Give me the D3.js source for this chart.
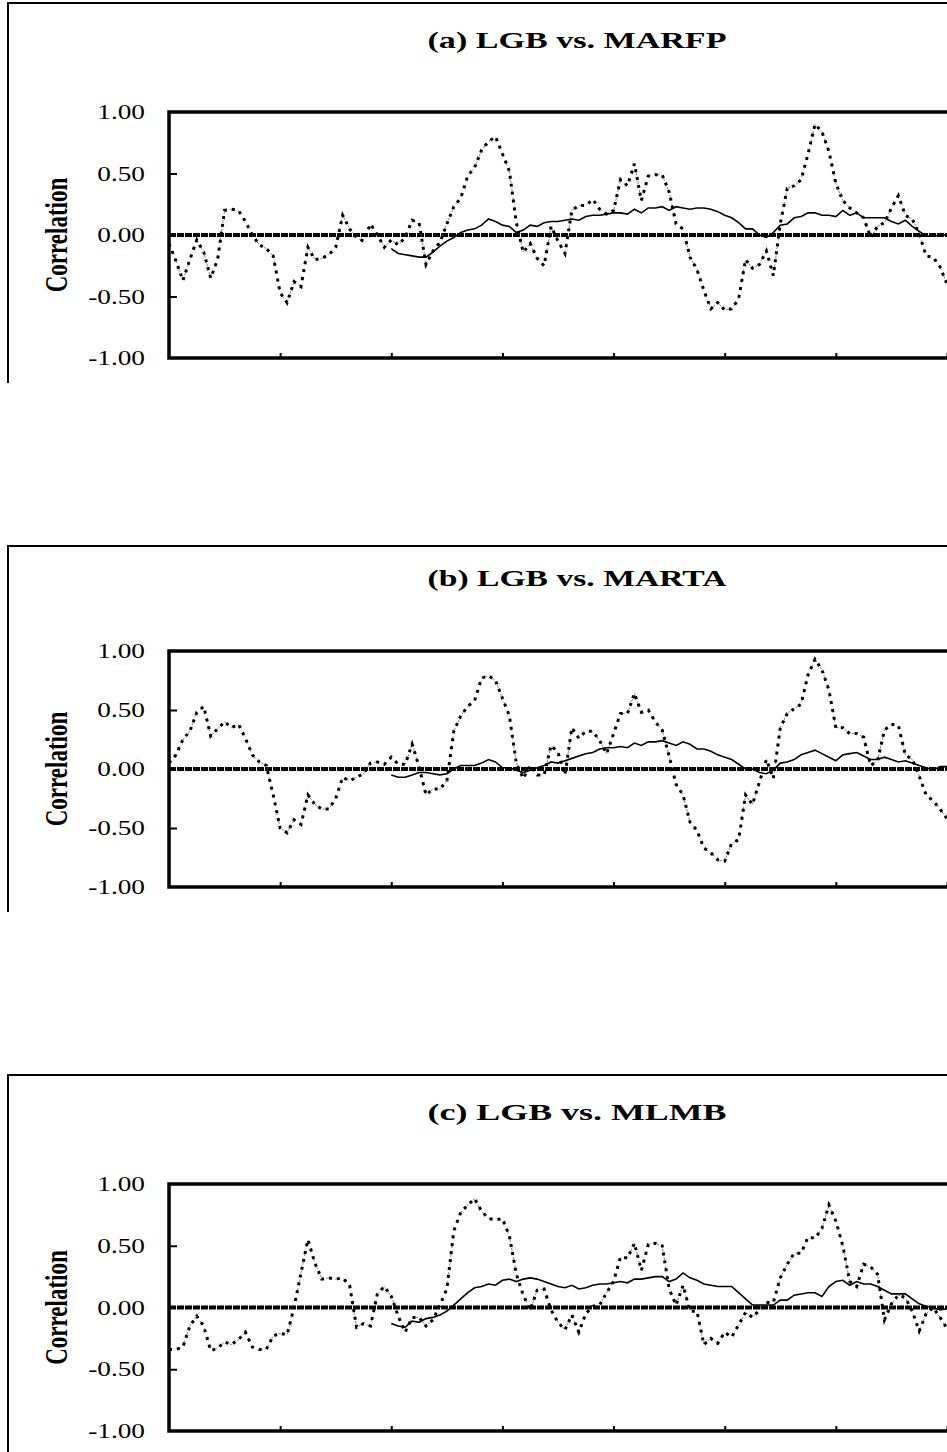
<!DOCTYPE html>
<html>
<head>
<meta charset="utf-8">
<script src="https://cdn.jsdelivr.net/npm/d3@7"></script>
<style>
  body { margin: 0; background: #fff; }
  svg { display: block; }
</style>
</head>
<body>
<div id="chart"></div>
<script>
// x index: 113 observations across the plot, ticks every 16
const xTicks = [16, 32, 48, 64, 80, 96, 112];
const yTicks = [1, 0.5, 0, -0.5, -1];
const innerYTicks = [0.5, -0.5];
const titles = ["(a) LGB vs. MARFP", "(b) LGB vs. MARTA", "(c) LGB vs. MLMB"];
const yLabel = "Correlation";
const solidStart = 32;

const dottedA = [-0.07,-0.21,-0.37,-0.20,-0.04,-0.14,-0.35,-0.20,0.20,0.21,
  0.20,0.11,0.00,-0.08,-0.11,-0.17,-0.47,-0.55,-0.38,-0.42,
  -0.10,-0.20,-0.19,-0.16,-0.10,0.16,0.05,-0.02,-0.05,0.09,
  0.00,-0.10,-0.04,-0.08,-0.02,0.12,0.10,-0.24,-0.13,-0.06,
  0.09,0.23,0.30,0.48,0.55,0.69,0.76,0.80,0.66,0.52,
  0.10,-0.14,-0.07,-0.19,-0.25,0.07,-0.05,-0.15,0.20,0.24,
  0.24,0.29,0.21,0.17,0.20,0.45,0.40,0.58,0.28,0.48,
  0.49,0.49,0.35,0.09,0.05,-0.18,-0.28,-0.45,-0.60,-0.55,
  -0.61,-0.60,-0.52,-0.20,-0.27,-0.24,-0.13,-0.33,0.09,0.38,
  0.40,0.45,0.66,0.90,0.84,0.68,0.42,0.28,0.22,0.18,
  0.14,-0.02,0.07,0.10,0.22,0.32,0.16,0.13,0.01,-0.17,
  -0.18,-0.26,-0.40];
const solidA = [-0.11,-0.15,-0.16,-0.17,-0.18,-0.18,-0.14,-0.09,-0.05,-0.02,
  0.02,0.04,0.05,0.08,0.13,0.11,0.08,0.07,0.02,0.04,
  0.08,0.07,0.10,0.11,0.11,0.12,0.13,0.12,0.15,0.16,
  0.16,0.17,0.18,0.18,0.17,0.21,0.18,0.22,0.22,0.23,
  0.20,0.23,0.22,0.21,0.22,0.22,0.21,0.19,0.16,0.14,
  0.10,0.05,0.05,0.00,-0.02,0.02,0.08,0.09,0.14,0.15,
  0.18,0.18,0.16,0.16,0.15,0.20,0.16,0.18,0.14,0.14,
  0.14,0.14,0.11,0.09,0.12,0.07,0.03,-0.01,-0.01,0.00,
  0.00];

const dottedB = [0.05,0.12,0.25,0.32,0.48,0.53,0.28,0.34,0.40,0.35,
  0.38,0.26,0.12,0.06,0.03,-0.22,-0.50,-0.54,-0.43,-0.47,
  -0.22,-0.30,-0.34,-0.34,-0.25,-0.07,-0.10,-0.07,-0.04,0.05,
  0.06,0.04,0.10,0.04,0.04,0.21,0.02,-0.22,-0.17,-0.17,
  -0.10,0.32,0.45,0.53,0.58,0.77,0.79,0.75,0.60,0.45,
  0.05,-0.08,0.03,-0.05,-0.05,0.20,0.14,-0.05,0.35,0.26,
  0.32,0.32,0.24,0.13,0.30,0.47,0.47,0.64,0.48,0.50,
  0.40,0.33,0.11,-0.13,-0.22,-0.45,-0.52,-0.67,-0.71,-0.77,
  -0.78,-0.63,-0.60,-0.22,-0.30,-0.11,0.08,-0.08,0.35,0.47,
  0.51,0.55,0.80,0.93,0.84,0.67,0.35,0.35,0.30,0.30,
  0.27,0.03,0.07,0.33,0.38,0.37,0.12,0.08,-0.06,-0.22,
  -0.27,-0.34,-0.42];
const solidB = [-0.05,-0.07,-0.07,-0.05,-0.03,-0.03,-0.04,-0.05,-0.04,0.00,
  0.03,0.03,0.03,0.05,0.08,0.06,0.01,0.01,-0.01,-0.03,
  -0.01,0.01,0.03,0.06,0.05,0.07,0.09,0.11,0.13,0.14,
  0.17,0.18,0.18,0.19,0.18,0.22,0.20,0.23,0.23,0.24,
  0.22,0.20,0.23,0.21,0.17,0.17,0.15,0.12,0.10,0.08,
  0.04,0.00,0.00,-0.03,-0.04,-0.01,0.05,0.06,0.08,0.12,
  0.14,0.16,0.13,0.10,0.07,0.12,0.13,0.14,0.11,0.08,
  0.08,0.10,0.08,0.06,0.07,0.05,0.03,0.01,-0.01,0.02,
  0.02];

const dottedC = [-0.34,-0.34,-0.32,-0.15,-0.07,-0.15,-0.35,-0.33,-0.28,-0.30,
  -0.26,-0.20,-0.32,-0.34,-0.34,-0.23,-0.21,-0.22,0.00,0.28,
  0.55,0.36,0.23,0.24,0.23,0.24,0.18,-0.16,-0.13,-0.15,
  0.11,0.17,0.09,-0.07,-0.20,-0.08,-0.08,-0.15,-0.10,0.02,
  0.15,0.62,0.77,0.83,0.88,0.78,0.72,0.71,0.72,0.58,
  0.27,0.10,-0.02,0.14,0.15,-0.02,-0.12,-0.18,-0.06,-0.20,
  -0.05,0.01,0.02,0.12,0.21,0.41,0.40,0.52,0.30,0.51,
  0.52,0.50,0.15,0.02,0.18,-0.03,-0.03,-0.30,-0.25,-0.29,
  -0.20,-0.24,-0.14,-0.04,-0.08,-0.02,0.04,0.04,0.24,0.35,
  0.44,0.44,0.57,0.56,0.64,0.83,0.70,0.50,0.21,0.17,
  0.35,0.33,0.27,-0.10,0.03,0.10,0.08,-0.03,-0.19,-0.05,
  0.00,-0.08,-0.17];
const solidC = [-0.13,-0.15,-0.16,-0.11,-0.12,-0.09,-0.08,-0.06,-0.03,0.02,
  0.07,0.12,0.16,0.17,0.19,0.18,0.22,0.23,0.21,0.23,
  0.24,0.23,0.21,0.19,0.17,0.16,0.18,0.15,0.16,0.18,
  0.19,0.19,0.20,0.21,0.20,0.23,0.23,0.24,0.25,0.25,
  0.21,0.23,0.28,0.24,0.22,0.19,0.18,0.17,0.17,0.17,
  0.12,0.07,0.02,0.02,0.02,0.02,0.06,0.06,0.10,0.11,
  0.12,0.12,0.09,0.17,0.21,0.22,0.18,0.21,0.19,0.19,
  0.17,0.14,0.11,0.11,0.11,0.07,0.03,0.01,0.00,-0.02,
  -0.01];

const dottedSeries = [dottedA, dottedB, dottedC];
const solidSeries = [solidA, solidB, solidC];

// page layout of the three panels
const layout = [
  { frameTop: 3,    frameBottom: 383,  plotTop: 112,  plotBottom: 358,  titleY: 48 },
  { frameTop: 546,  frameBottom: 912,  plotTop: 651,  plotBottom: 887,  titleY: 586 },
  { frameTop: 1075, frameBottom: 1452, plotTop: 1184, plotBottom: 1431, titleY: 1120 }
];

const W = 947, H = 1452;
const plotLeft = 169, plotRight = 947, frameLeft = 8;
const serif = "'Liberation Serif', 'Times New Roman', serif";

const svg = d3.select("#chart")
  .append("svg")
  .attr("width", W)
  .attr("height", H);

const x = d3.scaleLinear().domain([0, 112]).range([plotLeft, plotRight]);

layout.forEach((p, k) => {
  const g = svg.append("g");
  const y = d3.scaleLinear().domain([-1, 1]).range([p.plotBottom, p.plotTop]);

  // outer chart frame (cut off by the picture on the right / bottom)
  g.append("path")
    .attr("d", `M${frameLeft},${p.frameBottom} V${p.frameTop} H${W}`)
    .attr("fill", "none")
    .attr("stroke", "#000")
    .attr("stroke-width", 2);

  g.append("text")
    .attr("x", 577)
    .attr("y", p.titleY)
    .attr("text-anchor", "middle")
    .attr("font-family", serif)
    .attr("font-weight", "bold")
    .attr("font-size", 23)
    .attr("textLength", 299)
    .attr("lengthAdjust", "spacingAndGlyphs")
    .text(titles[k]);

  const midY = (p.plotTop + p.plotBottom) / 2;
  g.append("text")
    .attr("transform", `translate(67,${midY}) scale(1.4,1) rotate(-90)`)
    .attr("text-anchor", "middle")
    .attr("font-family", serif)
    .attr("font-weight", "bold")
    .attr("font-size", 23)
    .text(yLabel);

  // y tick labels
  const yAxis = g.append("g")
    .attr("transform", `translate(${plotLeft},0)`)
    .call(d3.axisLeft(y).tickValues(yTicks).tickSize(0).tickFormat(d => d.toFixed(2)));
  yAxis.select(".domain").remove();
  yAxis.selectAll("text")
    .attr("font-family", serif)
    .attr("font-size", 21)
    .attr("fill", "#000")
    .attr("x", -24 / 1.3)
    .attr("transform", "scale(1.3,1)");

  // inner tick marks
  const yIn = g.append("g")
    .attr("transform", `translate(${plotLeft},0)`)
    .call(d3.axisRight(y).tickValues(innerYTicks).tickSize(8).tickFormat(""));
  yIn.select(".domain").remove();
  yIn.selectAll("line").attr("stroke", "#000").attr("stroke-width", 2);

  const xAx = g.append("g")
    .attr("transform", `translate(0,${p.plotBottom})`)
    .call(d3.axisTop(x).tickValues(xTicks).tickSize(5).tickFormat(""));
  xAx.select(".domain").remove();
  xAx.selectAll("line").attr("stroke", "#000").attr("stroke-width", 2);

  // plot frame: left, top, bottom
  g.append("path")
    .attr("d", `M${plotRight},${p.plotTop} H${plotLeft} V${p.plotBottom} H${plotRight}`)
    .attr("fill", "none")
    .attr("stroke", "#000")
    .attr("stroke-width", 3.5);

  // zero line
  g.append("line")
    .attr("x1", plotLeft).attr("x2", plotRight)
    .attr("y1", y(0)).attr("y2", y(0))
    .attr("stroke", "#000")
    .attr("stroke-width", 4)
    .attr("stroke-dasharray", "7,1");

  const dotted = dottedSeries[k].map((v, i) => [i, v]);
  const solid = solidSeries[k].map((v, i) => [i + solidStart, v]);
  const line = d3.line().x(d => x(d[0])).y(d => y(d[1]));

  g.append("path")
    .datum(dotted)
    .attr("d", line)
    .attr("fill", "none")
    .attr("stroke", "#555")
    .attr("stroke-width", 0.7)
    .attr("stroke-dasharray", "3,6");

  g.append("path")
    .datum(solid)
    .attr("d", line)
    .attr("fill", "none")
    .attr("stroke", "#000")
    .attr("stroke-width", 1.6);

  g.append("path")
    .datum(dotted)
    .attr("d", line)
    .attr("fill", "none")
    .attr("stroke", "#000")
    .attr("stroke-width", 3)
    .attr("stroke-dasharray", "3,5");
});
</script>
</body>
</html>
